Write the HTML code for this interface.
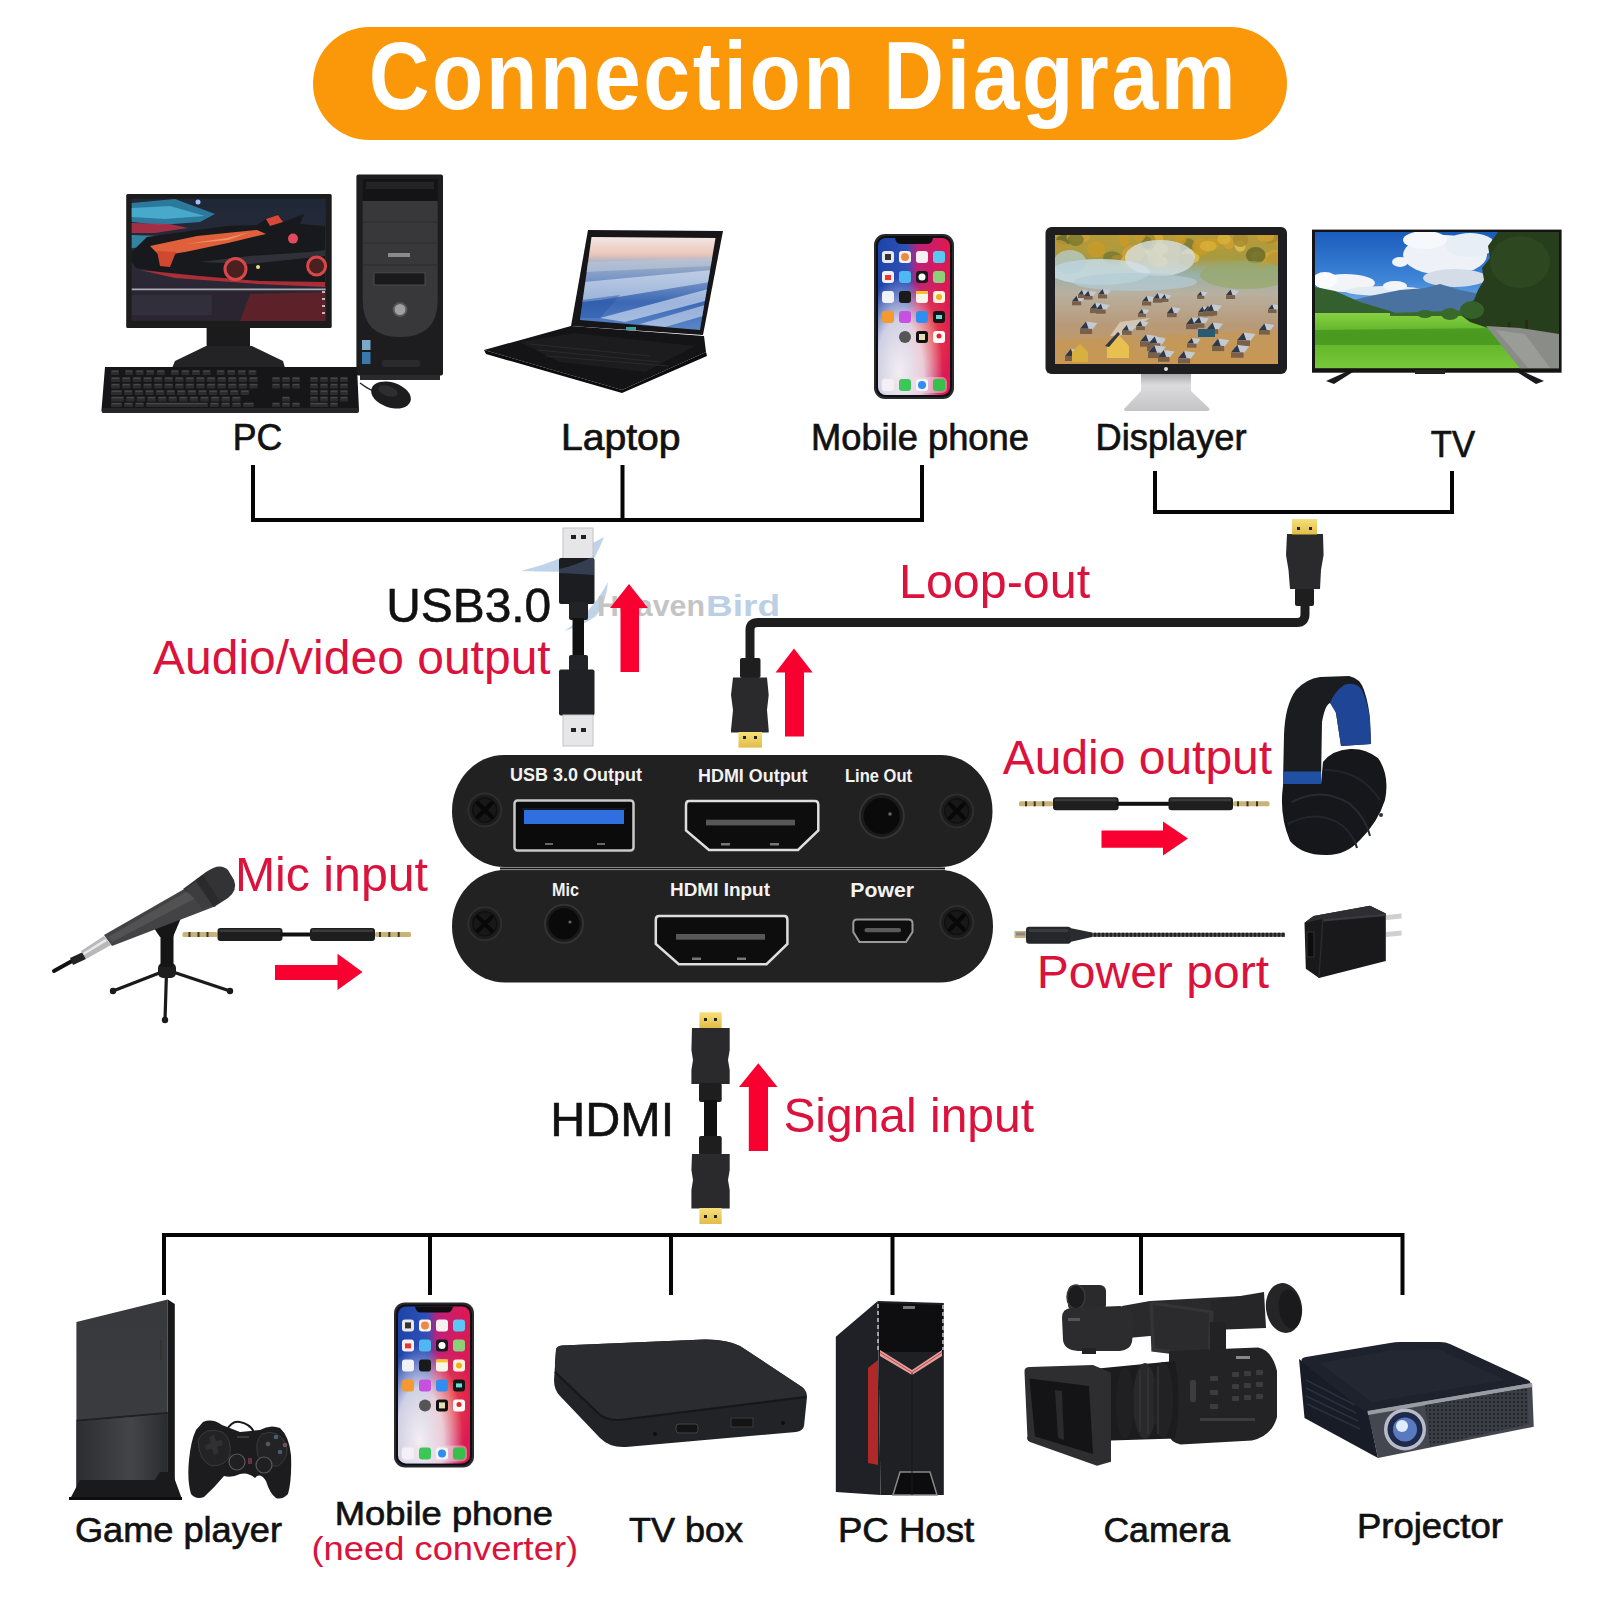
<!DOCTYPE html>
<html>
<head>
<meta charset="utf-8">
<style>
html,body{margin:0;padding:0;background:#fff;}
body{width:1600px;height:1600px;overflow:hidden;position:relative;}
svg{position:absolute;left:0;top:0;display:block;}
text{font-family:"Liberation Sans",sans-serif;}
</style>
</head>
<body>
<svg width="1600" height="1600" viewBox="0 0 1600 1600">
<defs>
  <linearGradient id="gold" x1="0" y1="0" x2="0" y2="1">
    <stop offset="0" stop-color="#f6e07a"/><stop offset="1" stop-color="#e2bc48"/>
  </linearGradient>
  <linearGradient id="panel" x1="0" y1="0" x2="0" y2="1">
    <stop offset="0" stop-color="#1d1d1e"/><stop offset="1" stop-color="#171718"/>
  </linearGradient>
  <linearGradient id="pcscr" x1="0" y1="0" x2="0" y2="1">
    <stop offset="0" stop-color="#1f2838"/><stop offset="0.5" stop-color="#2a2a36"/><stop offset="1" stop-color="#2a2430"/>
  </linearGradient>
  <linearGradient id="lapscr" x1="0" y1="0" x2="0" y2="1">
    <stop offset="0" stop-color="#f4e6e4"/><stop offset="0.18" stop-color="#ecc8bc"/><stop offset="0.3" stop-color="#9aaac4"/><stop offset="0.45" stop-color="#7896c8"/><stop offset="0.7" stop-color="#3c68b4"/><stop offset="1" stop-color="#5a86c8"/>
  </linearGradient>
  <linearGradient id="phscr" x1="0" y1="0" x2="1" y2="0">
    <stop offset="0" stop-color="#1c44a8"/><stop offset="0.4" stop-color="#3050b8"/><stop offset="0.55" stop-color="#c02078"/><stop offset="1" stop-color="#e01850"/>
  </linearGradient>
  <radialGradient id="phred" cx="0.7" cy="0.62" r="0.35">
    <stop offset="0" stop-color="#f04838" stop-opacity="0.9"/><stop offset="1" stop-color="#f04838" stop-opacity="0"/>
  </radialGradient>
  <radialGradient id="phwhite" cx="0.3" cy="0.85" r="0.6">
    <stop offset="0" stop-color="#f4eef2" stop-opacity="1"/><stop offset="0.55" stop-color="#eee8ee" stop-opacity="0.85"/><stop offset="1" stop-color="#eee8ee" stop-opacity="0"/>
  </radialGradient>
  <linearGradient id="dispscr" x1="0" y1="0" x2="0" y2="1">
    <stop offset="0" stop-color="#b89a38"/><stop offset="0.18" stop-color="#a89a40"/><stop offset="0.3" stop-color="#98b0a8"/><stop offset="0.45" stop-color="#b8b0a0"/><stop offset="0.7" stop-color="#b89a78"/><stop offset="1" stop-color="#c89858"/>
  </linearGradient>
  <linearGradient id="stand" x1="0" y1="0" x2="0" y2="1">
    <stop offset="0" stop-color="#a8a8aa"/><stop offset="0.3" stop-color="#dcdcde"/><stop offset="1" stop-color="#c4c4c6"/>
  </linearGradient>
  <linearGradient id="ps2g" x1="0" y1="0" x2="0" y2="1">
    <stop offset="0" stop-color="#38393c"/><stop offset="1" stop-color="#3c3d40"/>
  </linearGradient>
  <linearGradient id="ps2l" x1="0" y1="0" x2="1" y2="0">
    <stop offset="0" stop-color="#2c2d30"/><stop offset="0.6" stop-color="#444548"/><stop offset="1" stop-color="#2a2b2e"/>
  </linearGradient>
  <linearGradient id="tvsky" x1="0" y1="0" x2="0" y2="1">
    <stop offset="0" stop-color="#1a5cbc"/><stop offset="0.6" stop-color="#3f86d8"/><stop offset="1" stop-color="#8ab8e8"/>
  </linearGradient>
  <linearGradient id="tvgrass" x1="0" y1="0" x2="0" y2="1">
    <stop offset="0" stop-color="#86d040"/><stop offset="0.4" stop-color="#5cb028"/><stop offset="1" stop-color="#78c838"/>
  </linearGradient>
  <pattern id="grille" x="0" y="0" width="4" height="4" patternUnits="userSpaceOnUse">
    <rect width="4" height="4" fill="#3a3d44"/><circle cx="2" cy="2" r="1.1" fill="#1e2026"/>
  </pattern>
</defs>

<!-- ===== TITLE BANNER ===== -->
<rect x="313" y="27" width="974" height="113" rx="56.5" fill="#FA980A"/>
<text x="368.7" y="109" font-size="95.5" font-weight="bold" fill="#fff" letter-spacing="3" textLength="869.5" lengthAdjust="spacingAndGlyphs">Connection Diagram</text>

<!-- ===== PC ===== -->
<g id="pc">
  <!-- monitor stand -->
  <rect x="206.6" y="326" width="43.4" height="26" fill="#1b1b1c"/>
  <path d="M206 346 H252 L283 361 L285 368 H172 L175 361 Z" fill="#232325"/>
  <!-- monitor -->
  <rect x="126.2" y="194" width="205.5" height="134" rx="1.5" fill="#1c1c1d"/>
  <rect x="131.7" y="198.7" width="194" height="122.3" fill="url(#pcscr)"/>
  <!-- streaks -->
  <polygon points="131.7,203 175,199 215,214 200,222 160,225 131.7,222" fill="#2e8fb8" opacity="0.8"/>
  <polygon points="131.7,208 170,206 205,216 165,219 131.7,217" fill="#5cc8e8" opacity="0.6"/>
  <polygon points="131.7,223 170,224 188,228 155,233 131.7,233" fill="#b83048" opacity="0.85"/>
  <polygon points="131.7,235 160,236 150,247 131.7,248" fill="#39a8cc" opacity="0.7"/>
  <circle cx="198" cy="202" r="2.5" fill="#9ec0ff"/>
  <!-- car -->
  <path d="M131.7 252 L147 237 L197 230 L227 226 L257 225 L266 219 L278 214.6 L283 222 L304 214 L300 224 L325 226 V286 L258 282 L175 275 L136 268 L131.7 262 Z" fill="#18191d"/>
  <path d="M150 246 L197 236 L257 230 L266 234 L228 243 L185 252 L160 256 Z" fill="#e0603c"/>
  <path d="M186 244 L227 238 L250 232 L228 240 Z" fill="#f0a070" opacity="0.8"/>
  <path d="M157 251 L176 252 L170 267 L160 266 Z" fill="#d04830"/>
  <path d="M266 219 L278 215 L283 222 L270 226 Z" fill="#d84838"/>
  <path d="M200 262 L250 256 L310 252 L325 250 V256 L250 264 Z" fill="#3a3c44" opacity="0.7"/>
  <path d="M140 270 L200 276 L260 281 L325 282 V287 L258 284 L175 278 Z" fill="#b83038" opacity="0.9"/>
  <circle cx="235.5" cy="269" r="10.5" fill="#4a2020" stroke="#d8484a" stroke-width="3"/>
  <circle cx="316.6" cy="266" r="9" fill="#4a2020" stroke="#d8484a" stroke-width="3"/>
  <circle cx="293" cy="238.6" r="5" fill="#e04a5c"/>
  <circle cx="258" cy="267" r="2" fill="#f0e080"/>
  <!-- reflection -->
  <rect x="131.7" y="288.5" width="194" height="2" fill="#c8ccd4" opacity="0.8"/>
  <rect x="131.7" y="290.5" width="194" height="30.5" fill="#2a2530"/>
  <polygon points="250,294 325.6,292 325.6,321 240,321" fill="#6a2028" opacity="0.8"/>
  <rect x="131.7" y="295" width="80" height="20" fill="#3a3a48" opacity="0.5"/>
  <g fill="#bbb"><rect x="322" y="291" width="3" height="2"/><rect x="322" y="298" width="3" height="2"/><rect x="322" y="305" width="3" height="2"/><rect x="322" y="312" width="3" height="2"/></g>
  <!-- tower -->
  <rect x="356.4" y="174.4" width="86.6" height="201" rx="2" fill="#1d1d1f"/>
  <rect x="360" y="375" width="80" height="5" fill="#2a2a2a"/>
  <rect x="362.7" y="179" width="75" height="22" fill="#141416"/>
  <rect x="366" y="182" width="68" height="7" fill="#232325"/>
  <path d="M362.7 201 H437.7 V300 Q437.7 337 400 337 Q362.7 337 362.7 300 Z" fill="#38383b"/>
  <line x1="363" y1="222" x2="437" y2="222" stroke="#2a2a2c" stroke-width="1"/>
  <line x1="363" y1="243" x2="437" y2="243" stroke="#2a2a2c" stroke-width="1"/>
  <line x1="363" y1="265" x2="437" y2="265" stroke="#2a2a2c" stroke-width="1"/>
  <rect x="388" y="253" width="22" height="4" fill="#8a8a8c"/>
  <rect x="374" y="272.8" width="51" height="12.2" fill="#1a1a1c" stroke="#4a4a4c" stroke-width="1"/>
  <circle cx="400" cy="309.5" r="6.5" fill="#a0a0a4" stroke="#55555a" stroke-width="2"/>
  <rect x="362" y="340" width="8.5" height="10" fill="#7aa8c8"/>
  <rect x="362" y="352" width="8.5" height="12" fill="#3a78b0"/>
  <rect x="382" y="360" width="38" height="7" rx="2" fill="#2a2a2c"/>
  <!-- keyboard -->
  <path d="M105 367 H357 L359 410 Q359 413 355 413 H104 Q101 413 101.5 410 Z" fill="#161618"/>
  <rect x="111.0" y="370.0" width="8.0" height="5.0" rx="0.8" fill="#2c2c2e"/><rect x="111.8" y="370.6" width="6.4" height="1.2" fill="#4a4a4c"/><rect x="125.0" y="370.0" width="8.0" height="5.0" rx="0.8" fill="#2c2c2e"/><rect x="125.8" y="370.6" width="6.4" height="1.2" fill="#4a4a4c"/><rect x="135.6" y="370.0" width="8.0" height="5.0" rx="0.8" fill="#2c2c2e"/><rect x="136.4" y="370.6" width="6.4" height="1.2" fill="#4a4a4c"/><rect x="146.2" y="370.0" width="8.0" height="5.0" rx="0.8" fill="#2c2c2e"/><rect x="147.0" y="370.6" width="6.4" height="1.2" fill="#4a4a4c"/><rect x="156.8" y="370.0" width="8.0" height="5.0" rx="0.8" fill="#2c2c2e"/><rect x="157.6" y="370.6" width="6.4" height="1.2" fill="#4a4a4c"/><rect x="170.8" y="370.0" width="8.0" height="5.0" rx="0.8" fill="#2c2c2e"/><rect x="171.6" y="370.6" width="6.4" height="1.2" fill="#4a4a4c"/><rect x="181.4" y="370.0" width="8.0" height="5.0" rx="0.8" fill="#2c2c2e"/><rect x="182.2" y="370.6" width="6.4" height="1.2" fill="#4a4a4c"/><rect x="192.0" y="370.0" width="8.0" height="5.0" rx="0.8" fill="#2c2c2e"/><rect x="192.8" y="370.6" width="6.4" height="1.2" fill="#4a4a4c"/><rect x="202.6" y="370.0" width="8.0" height="5.0" rx="0.8" fill="#2c2c2e"/><rect x="203.4" y="370.6" width="6.4" height="1.2" fill="#4a4a4c"/><rect x="216.6" y="370.0" width="8.0" height="5.0" rx="0.8" fill="#2c2c2e"/><rect x="217.4" y="370.6" width="6.4" height="1.2" fill="#4a4a4c"/><rect x="227.2" y="370.0" width="8.0" height="5.0" rx="0.8" fill="#2c2c2e"/><rect x="228.0" y="370.6" width="6.4" height="1.2" fill="#4a4a4c"/><rect x="237.8" y="370.0" width="8.0" height="5.0" rx="0.8" fill="#2c2c2e"/><rect x="238.6" y="370.6" width="6.4" height="1.2" fill="#4a4a4c"/><rect x="248.4" y="370.0" width="8.0" height="5.0" rx="0.8" fill="#2c2c2e"/><rect x="249.2" y="370.6" width="6.4" height="1.2" fill="#4a4a4c"/><rect x="111.0" y="377.0" width="9.0" height="5.0" rx="0.8" fill="#2c2c2e"/><rect x="111.8" y="377.6" width="7.4" height="1.2" fill="#4a4a4c"/><rect x="122.0" y="377.0" width="8.6" height="5.0" rx="0.8" fill="#2c2c2e"/><rect x="122.8" y="377.6" width="7.0" height="1.2" fill="#4a4a4c"/><rect x="132.6" y="377.0" width="8.6" height="5.0" rx="0.8" fill="#2c2c2e"/><rect x="133.4" y="377.6" width="7.0" height="1.2" fill="#4a4a4c"/><rect x="143.2" y="377.0" width="8.6" height="5.0" rx="0.8" fill="#2c2c2e"/><rect x="144.0" y="377.6" width="7.0" height="1.2" fill="#4a4a4c"/><rect x="153.8" y="377.0" width="8.6" height="5.0" rx="0.8" fill="#2c2c2e"/><rect x="154.6" y="377.6" width="7.0" height="1.2" fill="#4a4a4c"/><rect x="164.4" y="377.0" width="8.6" height="5.0" rx="0.8" fill="#2c2c2e"/><rect x="165.2" y="377.6" width="7.0" height="1.2" fill="#4a4a4c"/><rect x="175.0" y="377.0" width="8.6" height="5.0" rx="0.8" fill="#2c2c2e"/><rect x="175.8" y="377.6" width="7.0" height="1.2" fill="#4a4a4c"/><rect x="185.6" y="377.0" width="8.6" height="5.0" rx="0.8" fill="#2c2c2e"/><rect x="186.4" y="377.6" width="7.0" height="1.2" fill="#4a4a4c"/><rect x="196.2" y="377.0" width="8.6" height="5.0" rx="0.8" fill="#2c2c2e"/><rect x="197.0" y="377.6" width="7.0" height="1.2" fill="#4a4a4c"/><rect x="206.8" y="377.0" width="8.6" height="5.0" rx="0.8" fill="#2c2c2e"/><rect x="207.6" y="377.6" width="7.0" height="1.2" fill="#4a4a4c"/><rect x="217.4" y="377.0" width="8.6" height="5.0" rx="0.8" fill="#2c2c2e"/><rect x="218.2" y="377.6" width="7.0" height="1.2" fill="#4a4a4c"/><rect x="228.0" y="377.0" width="8.6" height="5.0" rx="0.8" fill="#2c2c2e"/><rect x="228.8" y="377.6" width="7.0" height="1.2" fill="#4a4a4c"/><rect x="238.6" y="377.0" width="8.6" height="5.0" rx="0.8" fill="#2c2c2e"/><rect x="239.4" y="377.6" width="7.0" height="1.2" fill="#4a4a4c"/><rect x="249.2" y="377.0" width="8.6" height="5.0" rx="0.8" fill="#2c2c2e"/><rect x="250.0" y="377.6" width="7.0" height="1.2" fill="#4a4a4c"/><rect x="111.0" y="383.5" width="9.0" height="5.0" rx="0.8" fill="#2c2c2e"/><rect x="111.8" y="384.1" width="7.4" height="1.2" fill="#4a4a4c"/><rect x="122.0" y="383.5" width="8.6" height="5.0" rx="0.8" fill="#2c2c2e"/><rect x="122.8" y="384.1" width="7.0" height="1.2" fill="#4a4a4c"/><rect x="132.6" y="383.5" width="8.6" height="5.0" rx="0.8" fill="#2c2c2e"/><rect x="133.4" y="384.1" width="7.0" height="1.2" fill="#4a4a4c"/><rect x="143.2" y="383.5" width="8.6" height="5.0" rx="0.8" fill="#2c2c2e"/><rect x="144.0" y="384.1" width="7.0" height="1.2" fill="#4a4a4c"/><rect x="153.8" y="383.5" width="8.6" height="5.0" rx="0.8" fill="#2c2c2e"/><rect x="154.6" y="384.1" width="7.0" height="1.2" fill="#4a4a4c"/><rect x="164.4" y="383.5" width="8.6" height="5.0" rx="0.8" fill="#2c2c2e"/><rect x="165.2" y="384.1" width="7.0" height="1.2" fill="#4a4a4c"/><rect x="175.0" y="383.5" width="8.6" height="5.0" rx="0.8" fill="#2c2c2e"/><rect x="175.8" y="384.1" width="7.0" height="1.2" fill="#4a4a4c"/><rect x="185.6" y="383.5" width="8.6" height="5.0" rx="0.8" fill="#2c2c2e"/><rect x="186.4" y="384.1" width="7.0" height="1.2" fill="#4a4a4c"/><rect x="196.2" y="383.5" width="8.6" height="5.0" rx="0.8" fill="#2c2c2e"/><rect x="197.0" y="384.1" width="7.0" height="1.2" fill="#4a4a4c"/><rect x="206.8" y="383.5" width="8.6" height="5.0" rx="0.8" fill="#2c2c2e"/><rect x="207.6" y="384.1" width="7.0" height="1.2" fill="#4a4a4c"/><rect x="217.4" y="383.5" width="8.6" height="5.0" rx="0.8" fill="#2c2c2e"/><rect x="218.2" y="384.1" width="7.0" height="1.2" fill="#4a4a4c"/><rect x="228.0" y="383.5" width="8.6" height="5.0" rx="0.8" fill="#2c2c2e"/><rect x="228.8" y="384.1" width="7.0" height="1.2" fill="#4a4a4c"/><rect x="238.6" y="383.5" width="8.6" height="5.0" rx="0.8" fill="#2c2c2e"/><rect x="239.4" y="384.1" width="7.0" height="1.2" fill="#4a4a4c"/><rect x="249.2" y="383.5" width="8.6" height="5.0" rx="0.8" fill="#2c2c2e"/><rect x="250.0" y="384.1" width="7.0" height="1.2" fill="#4a4a4c"/><rect x="111.0" y="390.0" width="11.0" height="5.0" rx="0.8" fill="#2c2c2e"/><rect x="111.8" y="390.6" width="9.4" height="1.2" fill="#4a4a4c"/><rect x="124.0" y="390.0" width="8.6" height="5.0" rx="0.8" fill="#2c2c2e"/><rect x="124.8" y="390.6" width="7.0" height="1.2" fill="#4a4a4c"/><rect x="134.6" y="390.0" width="8.6" height="5.0" rx="0.8" fill="#2c2c2e"/><rect x="135.4" y="390.6" width="7.0" height="1.2" fill="#4a4a4c"/><rect x="145.2" y="390.0" width="8.6" height="5.0" rx="0.8" fill="#2c2c2e"/><rect x="146.0" y="390.6" width="7.0" height="1.2" fill="#4a4a4c"/><rect x="155.8" y="390.0" width="8.6" height="5.0" rx="0.8" fill="#2c2c2e"/><rect x="156.6" y="390.6" width="7.0" height="1.2" fill="#4a4a4c"/><rect x="166.4" y="390.0" width="8.6" height="5.0" rx="0.8" fill="#2c2c2e"/><rect x="167.2" y="390.6" width="7.0" height="1.2" fill="#4a4a4c"/><rect x="177.0" y="390.0" width="8.6" height="5.0" rx="0.8" fill="#2c2c2e"/><rect x="177.8" y="390.6" width="7.0" height="1.2" fill="#4a4a4c"/><rect x="187.6" y="390.0" width="8.6" height="5.0" rx="0.8" fill="#2c2c2e"/><rect x="188.4" y="390.6" width="7.0" height="1.2" fill="#4a4a4c"/><rect x="198.2" y="390.0" width="8.6" height="5.0" rx="0.8" fill="#2c2c2e"/><rect x="199.0" y="390.6" width="7.0" height="1.2" fill="#4a4a4c"/><rect x="208.8" y="390.0" width="8.6" height="5.0" rx="0.8" fill="#2c2c2e"/><rect x="209.6" y="390.6" width="7.0" height="1.2" fill="#4a4a4c"/><rect x="219.4" y="390.0" width="8.6" height="5.0" rx="0.8" fill="#2c2c2e"/><rect x="220.2" y="390.6" width="7.0" height="1.2" fill="#4a4a4c"/><rect x="230.0" y="390.0" width="8.6" height="5.0" rx="0.8" fill="#2c2c2e"/><rect x="230.8" y="390.6" width="7.0" height="1.2" fill="#4a4a4c"/><rect x="240.6" y="390.0" width="8.6" height="5.0" rx="0.8" fill="#2c2c2e"/><rect x="241.4" y="390.6" width="7.0" height="1.2" fill="#4a4a4c"/><rect x="111.0" y="396.5" width="13.0" height="5.0" rx="0.8" fill="#2c2c2e"/><rect x="111.8" y="397.1" width="11.4" height="1.2" fill="#4a4a4c"/><rect x="126.0" y="396.5" width="8.6" height="5.0" rx="0.8" fill="#2c2c2e"/><rect x="126.8" y="397.1" width="7.0" height="1.2" fill="#4a4a4c"/><rect x="136.6" y="396.5" width="8.6" height="5.0" rx="0.8" fill="#2c2c2e"/><rect x="137.4" y="397.1" width="7.0" height="1.2" fill="#4a4a4c"/><rect x="147.2" y="396.5" width="8.6" height="5.0" rx="0.8" fill="#2c2c2e"/><rect x="148.0" y="397.1" width="7.0" height="1.2" fill="#4a4a4c"/><rect x="157.8" y="396.5" width="8.6" height="5.0" rx="0.8" fill="#2c2c2e"/><rect x="158.6" y="397.1" width="7.0" height="1.2" fill="#4a4a4c"/><rect x="168.4" y="396.5" width="8.6" height="5.0" rx="0.8" fill="#2c2c2e"/><rect x="169.2" y="397.1" width="7.0" height="1.2" fill="#4a4a4c"/><rect x="179.0" y="396.5" width="8.6" height="5.0" rx="0.8" fill="#2c2c2e"/><rect x="179.8" y="397.1" width="7.0" height="1.2" fill="#4a4a4c"/><rect x="189.6" y="396.5" width="8.6" height="5.0" rx="0.8" fill="#2c2c2e"/><rect x="190.4" y="397.1" width="7.0" height="1.2" fill="#4a4a4c"/><rect x="200.2" y="396.5" width="8.6" height="5.0" rx="0.8" fill="#2c2c2e"/><rect x="201.0" y="397.1" width="7.0" height="1.2" fill="#4a4a4c"/><rect x="210.8" y="396.5" width="8.6" height="5.0" rx="0.8" fill="#2c2c2e"/><rect x="211.6" y="397.1" width="7.0" height="1.2" fill="#4a4a4c"/><rect x="221.4" y="396.5" width="8.6" height="5.0" rx="0.8" fill="#2c2c2e"/><rect x="222.2" y="397.1" width="7.0" height="1.2" fill="#4a4a4c"/><rect x="232.0" y="396.5" width="8.6" height="5.0" rx="0.8" fill="#2c2c2e"/><rect x="232.8" y="397.1" width="7.0" height="1.2" fill="#4a4a4c"/><rect x="111.0" y="402.5" width="11.0" height="4.5" rx="0.8" fill="#2c2c2e"/><rect x="111.8" y="403.1" width="9.4" height="1.2" fill="#4a4a4c"/><rect x="124.0" y="402.5" width="9.0" height="4.5" rx="0.8" fill="#2c2c2e"/><rect x="124.8" y="403.1" width="7.4" height="1.2" fill="#4a4a4c"/><rect x="135.0" y="402.5" width="9.0" height="4.5" rx="0.8" fill="#2c2c2e"/><rect x="135.8" y="403.1" width="7.4" height="1.2" fill="#4a4a4c"/><rect x="146.0" y="402.5" width="62.0" height="4.5" rx="0.8" fill="#2c2c2e"/><rect x="146.8" y="403.1" width="60.4" height="1.2" fill="#4a4a4c"/><rect x="210.0" y="402.5" width="9.0" height="4.5" rx="0.8" fill="#2c2c2e"/><rect x="210.8" y="403.1" width="7.4" height="1.2" fill="#4a4a4c"/><rect x="221.0" y="402.5" width="9.0" height="4.5" rx="0.8" fill="#2c2c2e"/><rect x="221.8" y="403.1" width="7.4" height="1.2" fill="#4a4a4c"/><rect x="232.0" y="402.5" width="9.0" height="4.5" rx="0.8" fill="#2c2c2e"/><rect x="232.8" y="403.1" width="7.4" height="1.2" fill="#4a4a4c"/><rect x="243.0" y="402.5" width="11.0" height="4.5" rx="0.8" fill="#2c2c2e"/><rect x="243.8" y="403.1" width="9.4" height="1.2" fill="#4a4a4c"/><rect x="272.0" y="377.0" width="8.0" height="5.0" rx="0.8" fill="#2c2c2e"/><rect x="272.8" y="377.6" width="6.4" height="1.2" fill="#4a4a4c"/><rect x="282.0" y="377.0" width="8.0" height="5.0" rx="0.8" fill="#2c2c2e"/><rect x="282.8" y="377.6" width="6.4" height="1.2" fill="#4a4a4c"/><rect x="292.0" y="377.0" width="8.0" height="5.0" rx="0.8" fill="#2c2c2e"/><rect x="292.8" y="377.6" width="6.4" height="1.2" fill="#4a4a4c"/><rect x="272.0" y="383.5" width="8.0" height="5.0" rx="0.8" fill="#2c2c2e"/><rect x="272.8" y="384.1" width="6.4" height="1.2" fill="#4a4a4c"/><rect x="282.0" y="383.5" width="8.0" height="5.0" rx="0.8" fill="#2c2c2e"/><rect x="282.8" y="384.1" width="6.4" height="1.2" fill="#4a4a4c"/><rect x="292.0" y="383.5" width="8.0" height="5.0" rx="0.8" fill="#2c2c2e"/><rect x="292.8" y="384.1" width="6.4" height="1.2" fill="#4a4a4c"/><rect x="282.0" y="396.5" width="8.0" height="5.0" rx="0.8" fill="#2c2c2e"/><rect x="282.8" y="397.1" width="6.4" height="1.2" fill="#4a4a4c"/><rect x="272.0" y="402.5" width="8.0" height="4.5" rx="0.8" fill="#2c2c2e"/><rect x="272.8" y="403.1" width="6.4" height="1.2" fill="#4a4a4c"/><rect x="282.0" y="402.5" width="8.0" height="4.5" rx="0.8" fill="#2c2c2e"/><rect x="282.8" y="403.1" width="6.4" height="1.2" fill="#4a4a4c"/><rect x="292.0" y="402.5" width="8.0" height="4.5" rx="0.8" fill="#2c2c2e"/><rect x="292.8" y="403.1" width="6.4" height="1.2" fill="#4a4a4c"/><rect x="310.0" y="377.0" width="8.0" height="5.0" rx="0.8" fill="#2c2c2e"/><rect x="310.8" y="377.6" width="6.4" height="1.2" fill="#4a4a4c"/><rect x="320.0" y="377.0" width="8.0" height="5.0" rx="0.8" fill="#2c2c2e"/><rect x="320.8" y="377.6" width="6.4" height="1.2" fill="#4a4a4c"/><rect x="330.0" y="377.0" width="8.0" height="5.0" rx="0.8" fill="#2c2c2e"/><rect x="330.8" y="377.6" width="6.4" height="1.2" fill="#4a4a4c"/><rect x="340.0" y="377.0" width="8.0" height="5.0" rx="0.8" fill="#2c2c2e"/><rect x="340.8" y="377.6" width="6.4" height="1.2" fill="#4a4a4c"/><rect x="310.0" y="383.5" width="8.0" height="5.0" rx="0.8" fill="#2c2c2e"/><rect x="310.8" y="384.1" width="6.4" height="1.2" fill="#4a4a4c"/><rect x="320.0" y="383.5" width="8.0" height="5.0" rx="0.8" fill="#2c2c2e"/><rect x="320.8" y="384.1" width="6.4" height="1.2" fill="#4a4a4c"/><rect x="330.0" y="383.5" width="8.0" height="5.0" rx="0.8" fill="#2c2c2e"/><rect x="330.8" y="384.1" width="6.4" height="1.2" fill="#4a4a4c"/><rect x="340.0" y="383.5" width="8.0" height="5.0" rx="0.8" fill="#2c2c2e"/><rect x="340.8" y="384.1" width="6.4" height="1.2" fill="#4a4a4c"/><rect x="310.0" y="390.0" width="8.0" height="5.0" rx="0.8" fill="#2c2c2e"/><rect x="310.8" y="390.6" width="6.4" height="1.2" fill="#4a4a4c"/><rect x="320.0" y="390.0" width="8.0" height="5.0" rx="0.8" fill="#2c2c2e"/><rect x="320.8" y="390.6" width="6.4" height="1.2" fill="#4a4a4c"/><rect x="330.0" y="390.0" width="8.0" height="5.0" rx="0.8" fill="#2c2c2e"/><rect x="330.8" y="390.6" width="6.4" height="1.2" fill="#4a4a4c"/><rect x="340.0" y="390.0" width="8.0" height="5.0" rx="0.8" fill="#2c2c2e"/><rect x="340.8" y="390.6" width="6.4" height="1.2" fill="#4a4a4c"/><rect x="310.0" y="396.5" width="8.0" height="5.0" rx="0.8" fill="#2c2c2e"/><rect x="310.8" y="397.1" width="6.4" height="1.2" fill="#4a4a4c"/><rect x="320.0" y="396.5" width="8.0" height="5.0" rx="0.8" fill="#2c2c2e"/><rect x="320.8" y="397.1" width="6.4" height="1.2" fill="#4a4a4c"/><rect x="330.0" y="396.5" width="8.0" height="5.0" rx="0.8" fill="#2c2c2e"/><rect x="330.8" y="397.1" width="6.4" height="1.2" fill="#4a4a4c"/><rect x="340.0" y="396.5" width="8.0" height="5.0" rx="0.8" fill="#2c2c2e"/><rect x="340.8" y="397.1" width="6.4" height="1.2" fill="#4a4a4c"/><rect x="310.0" y="402.5" width="18.0" height="4.5" rx="0.8" fill="#2c2c2e"/><rect x="310.8" y="403.1" width="16.4" height="1.2" fill="#4a4a4c"/><rect x="330.0" y="402.5" width="8.0" height="4.5" rx="0.8" fill="#2c2c2e"/><rect x="330.8" y="403.1" width="6.4" height="1.2" fill="#4a4a4c"/>
  <rect x="102" y="408" width="257" height="5" rx="2" fill="#252527"/>
  <!-- mouse -->
  <path d="M360 383 Q372 392 378 392" stroke="#222" stroke-width="1.5" fill="none"/>
  <ellipse cx="391" cy="395" rx="20.5" ry="12.5" transform="rotate(18 391 395)" fill="#1d1d1f"/>
  <ellipse cx="388" cy="391" rx="10" ry="5" transform="rotate(18 388 391)" fill="#3a3a3c" opacity="0.6"/>
</g>

<!-- ===== LAPTOP ===== -->
<g id="laptop">
  <polygon points="588,230 723,231 703,335 571,326" fill="#161618"/>
  <clipPath id="lapclip"><polygon points="591.5,237 715.5,238 700,330 580,320"/></clipPath>
  <polygon points="591.5,237 715.5,238 700,330 580,320" fill="url(#lapscr)"/>
  <g clip-path="url(#lapclip)">
  <polygon points="586,262 712,258 711,266 585,272" fill="#b8c4d8" opacity="0.7"/>
  <polygon points="584,282 712,270 710,282 600,300 582,302" fill="#e8eef8" opacity="0.55"/>
  <polygon points="600,318 712,288 709,300 625,322" fill="#dfe8f6" opacity="0.6"/>
  <polygon points="640,324 705,305 703,316 665,327" fill="#f0f4fa" opacity="0.5"/>
  <polygon points="582,300 620,295 600,318 580,318" fill="#2a58a8" opacity="0.5"/>
  </g>
  <rect x="626" y="327" width="10" height="3" fill="#3aa6a0"/>
  <polygon points="571,326 704,336 706,352 622,390 484,350" fill="#141416"/>
  <polygon points="520,342 575,333 695,346 645,372 560,362" fill="#1c1c1f"/>
  <g stroke="#2a2a2e" stroke-width="1">
    <path d="M530 344 L650 356 M538 350 L660 362 M546 356 L668 366"/>
  </g>
  <polygon points="484,350 622,390 706,352 707,356 622,393 486,354" fill="#0c0c0d"/>
</g>

<!-- ===== MOBILE PHONE (top) ===== -->
<g id="phone">
  <rect x="874" y="234" width="80" height="165" rx="11" fill="#2a2a2e"/>
  <rect x="876" y="236" width="76" height="161" rx="9.5" fill="#0e0e10"/>
  <rect x="878" y="238" width="72" height="157" rx="8" fill="url(#phscr)"/>
  <rect x="878" y="238" width="72" height="157" rx="8" fill="url(#phred)"/>
  <rect x="878" y="238" width="72" height="157" rx="8" fill="url(#phwhite)"/>
  <path d="M895 238 H933 Q932 244 927 244 H901 Q896 244 895 238 Z" fill="#0e0e10"/>
  <g id="icons">
    <rect x="882" y="251" width="12" height="12" rx="3" fill="#e8e8ea"/><rect x="885" y="254" width="6" height="6" fill="#333"/>
    <rect x="899" y="251" width="12" height="12" rx="3" fill="#f4f4f4"/><circle cx="905" cy="257" r="4" fill="#e84"/>
    <rect x="916" y="251" width="12" height="12" rx="3" fill="#f6f0f2"/>
    <rect x="933" y="251" width="12" height="12" rx="3" fill="#5ac8f5"/>
    <rect x="882" y="271" width="12" height="12" rx="3" fill="#f5f0f0"/><rect x="885" y="275" width="6" height="5" fill="#e33"/>
    <rect x="899" y="271" width="12" height="12" rx="3" fill="#4fb8f0"/>
    <rect x="916" y="271" width="12" height="12" rx="3" fill="#1a1a1a"/><circle cx="922" cy="277" r="3.5" fill="#fff"/>
    <rect x="933" y="271" width="12" height="12" rx="3" fill="#8ed07a"/>
    <rect x="882" y="291" width="12" height="12" rx="3" fill="#f0f2f8"/>
    <rect x="899" y="291" width="12" height="12" rx="3" fill="#1a1a1a"/>
    <rect x="916" y="291" width="12" height="12" rx="3" fill="#f8f4e8"/><rect x="916" y="291" width="12" height="3" fill="#f4c030"/>
    <rect x="933" y="291" width="12" height="12" rx="3" fill="#fff2dc"/><circle cx="939" cy="297" r="3" fill="#f0b020"/>
    <rect x="882" y="311" width="12" height="12" rx="3" fill="#f59a30"/>
    <rect x="899" y="311" width="12" height="12" rx="3" fill="#c850e0"/>
    <rect x="916" y="311" width="12" height="12" rx="3" fill="#2f8ef0"/>
    <rect x="933" y="311" width="12" height="12" rx="3" fill="#151515"/><rect x="936" y="315" width="6" height="4" fill="#6dd"/>
    <circle cx="905" cy="337" r="6" fill="#555"/>
    <rect x="916" y="331" width="12" height="12" rx="3" fill="#111"/><rect x="919" y="334" width="6" height="6" fill="#e8dcb0"/>
    <rect x="933" y="331" width="12" height="12" rx="3" fill="#fafafa"/><circle cx="939" cy="336" r="2.5" fill="#e22"/>
    <rect x="881" y="377" width="66" height="16" rx="5" fill="#f0e0e8" opacity="0.45"/>
    <rect x="882" y="379" width="12" height="12" rx="3" fill="#f4f0f6"/>
    <rect x="899" y="379" width="12" height="12" rx="3" fill="#3cc858"/>
    <rect x="916" y="379" width="12" height="12" rx="3" fill="#f4f6fa"/><circle cx="922" cy="385" r="4" fill="#2f8ef0"/>
    <rect x="933" y="379" width="12" height="12" rx="3" fill="#35c04a"/>
  </g>
</g>

<!-- ===== DISPLAYER ===== -->
<g id="displayer">
  <path d="M1141 374 H1191 V391 L1209 408 Q1211 411 1206 411 H1127 Q1122 411 1125 408 L1141 391 Z" fill="url(#stand)"/>
  <rect x="1045.5" y="227" width="241.5" height="147" rx="6" fill="#1e1e20"/>
  <rect x="1055" y="235" width="223" height="129" fill="url(#dispscr)"/>
  <clipPath id="dispclip"><rect x="1055" y="235" width="223" height="129"/></clipPath>
  <g clip-path="url(#dispclip)">
    <!-- trees -->
    <ellipse cx="1155.9" cy="250.6" rx="11.5" ry="6.9" fill="#e0c050" opacity="0.85"/>
    <ellipse cx="1096.2" cy="249.3" rx="9.4" ry="8.2" fill="#c89a28" opacity="0.85"/>
    <ellipse cx="1154.6" cy="239.7" rx="8.8" ry="8.6" fill="#d8b038" opacity="0.85"/>
    <ellipse cx="1187.8" cy="246.3" rx="8.2" ry="8.0" fill="#7a7a30" opacity="0.85"/>
    <ellipse cx="1194.0" cy="257.6" rx="5.4" ry="5.1" fill="#e0c050" opacity="0.85"/>
    <ellipse cx="1188.7" cy="256.2" rx="7.3" ry="7.4" fill="#e0c050" opacity="0.85"/>
    <ellipse cx="1170.8" cy="252.6" rx="8.5" ry="7.6" fill="#b89838" opacity="0.85"/>
    <ellipse cx="1201.0" cy="246.6" rx="8.9" ry="8.7" fill="#c89a28" opacity="0.85"/>
    <ellipse cx="1212.8" cy="244.2" rx="6.6" ry="6.2" fill="#c89a28" opacity="0.85"/>
    <ellipse cx="1180.6" cy="238.8" rx="5.8" ry="6.2" fill="#c89a28" opacity="0.85"/>
    <ellipse cx="1268.6" cy="258.0" rx="5.0" ry="5.8" fill="#d8b038" opacity="0.85"/>
    <ellipse cx="1159.8" cy="261.5" rx="7.8" ry="5.3" fill="#e0c050" opacity="0.85"/>
    <ellipse cx="1228.6" cy="243.0" rx="5.6" ry="6.3" fill="#d0a030" opacity="0.85"/>
    <ellipse cx="1224.0" cy="239.1" rx="6.7" ry="5.4" fill="#d8b038" opacity="0.85"/>
    <ellipse cx="1158.7" cy="248.7" rx="9.8" ry="5.8" fill="#e0c050" opacity="0.85"/>
    <ellipse cx="1274.7" cy="256.0" rx="7.9" ry="6.5" fill="#d0a030" opacity="0.85"/>
    <ellipse cx="1148.8" cy="241.5" rx="6.9" ry="8.9" fill="#a88a30" opacity="0.85"/>
    <ellipse cx="1277.5" cy="236.5" rx="6.3" ry="9.0" fill="#c89a28" opacity="0.85"/>
    <ellipse cx="1064.4" cy="239.8" rx="8.1" ry="5.0" fill="#6a6a2a" opacity="0.85"/>
    <ellipse cx="1240.2" cy="246.0" rx="5.5" ry="5.8" fill="#e0c050" opacity="0.85"/>
    <ellipse cx="1058.5" cy="245.6" rx="9.4" ry="5.5" fill="#b89838" opacity="0.85"/>
    <ellipse cx="1240.6" cy="239.5" rx="7.7" ry="7.5" fill="#a88a30" opacity="0.85"/>
    <ellipse cx="1257.6" cy="257.3" rx="6.7" ry="5.8" fill="#e0c050" opacity="0.85"/>
    <ellipse cx="1208.2" cy="246.1" rx="8.4" ry="5.3" fill="#d8b038" opacity="0.85"/>
    <ellipse cx="1078.2" cy="237.0" rx="11.7" ry="6.0" fill="#d0a030" opacity="0.85"/>
    <ellipse cx="1112.3" cy="257.4" rx="9.2" ry="6.2" fill="#7a7a30" opacity="0.85"/>
    <ellipse cx="1262.2" cy="261.4" rx="5.9" ry="6.9" fill="#c89a28" opacity="0.85"/>
    <ellipse cx="1117.5" cy="259.9" rx="6.4" ry="5.1" fill="#a88a30" opacity="0.85"/>
    <ellipse cx="1146.7" cy="242.5" rx="5.3" ry="6.1" fill="#7a7a30" opacity="0.85"/>
    <ellipse cx="1075.6" cy="239.6" rx="8.2" ry="6.3" fill="#7a7a30" opacity="0.85"/>
    <ellipse cx="1186.5" cy="260.0" rx="8.3" ry="6.4" fill="#a88a30" opacity="0.85"/>
    <ellipse cx="1269.7" cy="236.6" rx="9.5" ry="6.9" fill="#a88a30" opacity="0.85"/>
    <ellipse cx="1126.1" cy="262.0" rx="5.5" ry="7.2" fill="#d8b038" opacity="0.85"/>
    <ellipse cx="1255.7" cy="255.2" rx="9.9" ry="8.2" fill="#6a6a2a" opacity="0.85"/>
    <ellipse cx="1133.5" cy="253.8" rx="11.3" ry="8.5" fill="#d0a030" opacity="0.85"/>
    <ellipse cx="1265.6" cy="236.8" rx="8.5" ry="5.1" fill="#d0a030" opacity="0.85"/>
    <ellipse cx="1139.6" cy="236.3" rx="5.5" ry="5.4" fill="#c89a28" opacity="0.85"/>
    <ellipse cx="1276.5" cy="258.9" rx="10.1" ry="6.6" fill="#b89838" opacity="0.85"/>
    <ellipse cx="1153.2" cy="257.8" rx="5.6" ry="8.0" fill="#d8b038" opacity="0.85"/>
    <ellipse cx="1124.2" cy="238.3" rx="5.2" ry="8.8" fill="#c89a28" opacity="0.85"/>
    <ellipse cx="1245" cy="275" rx="45" ry="14" fill="#98a868" opacity="0.7"/>
    <!-- fog -->
    <ellipse cx="1100" cy="272" rx="50" ry="13" fill="#c8dce4" opacity="0.85"/>
    <ellipse cx="1160" cy="258" rx="35" ry="18" fill="#d4e0e4" opacity="0.8"/>
    <ellipse cx="1135" cy="282" rx="62" ry="9" fill="#b4ccd4" opacity="0.7"/>
    <ellipse cx="1070" cy="262" rx="16" ry="12" fill="#b8d0d8" opacity="0.7"/>
    <!-- ground tint -->
    <polygon points="1055,340 1278,330 1278,364 1055,364" fill="#c89850" opacity="0.6"/>
    <polygon points="1120,322 1150,318 1125,335 1110,336" fill="#e0d8c8" opacity="0.7"/>
    <polygon points="1072.0,301.3 1076.6,295.7 1085.2,296.9 1081.2,302.1" fill="#c4cad2"/>
    <polygon points="1072.0,301.3 1076.6,295.7 1078.6,301.3" fill="#2e3848"/>
    <rect x="1072.0" y="301.3" width="9.2" height="4.0" fill="#7a6048"/>
    <polygon points="1078.0,294.7 1082.0,289.9 1089.3,291.0 1085.9,295.4" fill="#c4cad2"/>
    <polygon points="1078.0,294.7 1082.0,289.9 1083.6,294.7" fill="#2e3848"/>
    <rect x="1078.0" y="294.7" width="7.9" height="3.4" fill="#7a6048"/>
    <polygon points="1084.0,295.9 1088.3,290.7 1096.3,291.9 1092.6,296.7" fill="#c4cad2"/>
    <polygon points="1084.0,295.9 1088.3,290.7 1090.2,295.9" fill="#2e3848"/>
    <rect x="1084.0" y="295.9" width="8.6" height="3.7" fill="#7a6048"/>
    <polygon points="1098.0,294.5 1102.6,289.0 1111.0,290.2 1107.1,295.3" fill="#c4cad2"/>
    <polygon points="1098.0,294.5 1102.6,289.0 1104.5,294.5" fill="#2e3848"/>
    <rect x="1098.0" y="294.5" width="9.1" height="3.9" fill="#7a6048"/>
    <polygon points="1142.0,301.6 1146.6,296.1 1155.1,297.3 1151.2,302.4" fill="#c4cad2"/>
    <polygon points="1142.0,301.6 1146.6,296.1 1148.5,301.6" fill="#2e3848"/>
    <rect x="1142.0" y="301.6" width="9.2" height="3.9" fill="#7a6048"/>
    <polygon points="1153.0,298.7 1157.7,293.0 1166.4,294.2 1162.4,299.5" fill="#c4cad2"/>
    <polygon points="1153.0,298.7 1157.7,293.0 1159.7,298.7" fill="#2e3848"/>
    <rect x="1153.0" y="298.7" width="9.4" height="4.0" fill="#7a6048"/>
    <polygon points="1161.0,298.7 1164.7,294.3 1171.5,295.2 1168.4,299.3" fill="#c4cad2"/>
    <polygon points="1161.0,298.7 1164.7,294.3 1166.3,298.7" fill="#2e3848"/>
    <rect x="1161.0" y="298.7" width="7.4" height="3.2" fill="#7a6048"/>
    <polygon points="1197.0,295.8 1200.7,291.4 1207.5,292.3 1204.3,296.4" fill="#c4cad2"/>
    <polygon points="1197.0,295.8 1200.7,291.4 1202.2,295.8" fill="#2e3848"/>
    <rect x="1197.0" y="295.8" width="7.3" height="3.1" fill="#7a6048"/>
    <polygon points="1226.0,295.1 1230.6,289.6 1239.0,290.8 1235.1,295.8" fill="#c4cad2"/>
    <polygon points="1226.0,295.1 1230.6,289.6 1232.5,295.1" fill="#2e3848"/>
    <rect x="1226.0" y="295.1" width="9.1" height="3.9" fill="#7a6048"/>
    <polygon points="1090.0,308.8 1095.1,302.7 1104.5,304.0 1100.1,309.7" fill="#c4cad2"/>
    <polygon points="1090.0,308.8 1095.1,302.7 1097.2,308.8" fill="#2e3848"/>
    <rect x="1090.0" y="308.8" width="10.1" height="4.3" fill="#7a6048"/>
    <polygon points="1096.0,309.5 1100.9,303.7 1109.9,304.9 1105.7,310.3" fill="#c4cad2"/>
    <polygon points="1096.0,309.5 1100.9,303.7 1102.9,309.5" fill="#2e3848"/>
    <rect x="1096.0" y="309.5" width="9.7" height="4.2" fill="#7a6048"/>
    <polygon points="1138.0,313.7 1142.0,308.9 1149.3,310.0 1145.9,314.4" fill="#c4cad2"/>
    <polygon points="1138.0,313.7 1142.0,308.9 1143.7,313.7" fill="#2e3848"/>
    <rect x="1138.0" y="313.7" width="7.9" height="3.4" fill="#7a6048"/>
    <polygon points="1167.0,313.0 1171.8,307.1 1180.8,308.4 1176.7,313.8" fill="#c4cad2"/>
    <polygon points="1167.0,313.0 1171.8,307.1 1173.9,313.0" fill="#2e3848"/>
    <rect x="1167.0" y="313.0" width="9.7" height="4.2" fill="#7a6048"/>
    <polygon points="1198.0,312.3 1202.7,306.6 1211.5,307.8 1207.4,313.1" fill="#c4cad2"/>
    <polygon points="1198.0,312.3 1202.7,306.6 1204.7,312.3" fill="#2e3848"/>
    <rect x="1198.0" y="312.3" width="9.4" height="4.0" fill="#7a6048"/>
    <polygon points="1203.0,311.7 1208.2,305.4 1218.0,306.8 1213.5,312.6" fill="#c4cad2"/>
    <polygon points="1203.0,311.7 1208.2,305.4 1210.5,311.7" fill="#2e3848"/>
    <rect x="1203.0" y="311.7" width="10.5" height="4.5" fill="#7a6048"/>
    <polygon points="1206.0,310.9 1211.5,304.3 1221.8,305.7 1217.1,311.8" fill="#c4cad2"/>
    <polygon points="1206.0,310.9 1211.5,304.3 1213.9,310.9" fill="#2e3848"/>
    <rect x="1206.0" y="310.9" width="11.1" height="4.7" fill="#7a6048"/>
    <polygon points="1268.0,309.4 1272.2,304.3 1280.1,305.4 1276.5,310.2" fill="#c4cad2"/>
    <polygon points="1268.0,309.4 1272.2,304.3 1274.1,309.4" fill="#2e3848"/>
    <rect x="1268.0" y="309.4" width="8.5" height="3.6" fill="#7a6048"/>
    <polygon points="1080.0,328.8 1086.0,321.6 1097.3,323.1 1092.1,329.9" fill="#c4cad2"/>
    <polygon points="1080.0,328.8 1086.0,321.6 1088.6,328.8" fill="#2e3848"/>
    <rect x="1080.0" y="328.8" width="12.1" height="5.2" fill="#7a6048"/>
    <polygon points="1122.0,330.8 1126.8,325.1 1135.7,326.3 1131.6,331.7" fill="#c4cad2"/>
    <polygon points="1122.0,330.8 1126.8,325.1 1128.9,330.8" fill="#2e3848"/>
    <rect x="1122.0" y="330.8" width="9.6" height="4.1" fill="#7a6048"/>
    <polygon points="1136.0,326.3 1140.4,321.0 1148.7,322.2 1144.9,327.1" fill="#c4cad2"/>
    <polygon points="1136.0,326.3 1140.4,321.0 1142.4,326.3" fill="#2e3848"/>
    <rect x="1136.0" y="326.3" width="8.9" height="3.8" fill="#7a6048"/>
    <polygon points="1186.0,324.2 1191.8,317.3 1202.5,318.8 1197.6,325.2" fill="#c4cad2"/>
    <polygon points="1186.0,324.2 1191.8,317.3 1194.3,324.2" fill="#2e3848"/>
    <rect x="1186.0" y="324.2" width="11.6" height="5.0" fill="#7a6048"/>
    <polygon points="1194.0,323.3 1199.2,317.0 1208.9,318.4 1204.5,324.2" fill="#c4cad2"/>
    <polygon points="1194.0,323.3 1199.2,317.0 1201.5,323.3" fill="#2e3848"/>
    <rect x="1194.0" y="323.3" width="10.5" height="4.5" fill="#7a6048"/>
    <polygon points="1207.0,329.1 1212.6,322.4 1223.0,323.8 1218.2,330.1" fill="#c4cad2"/>
    <polygon points="1207.0,329.1 1212.6,322.4 1215.0,329.1" fill="#2e3848"/>
    <rect x="1207.0" y="329.1" width="11.2" height="4.8" fill="#7a6048"/>
    <polygon points="1259.0,330.0 1264.4,323.5 1274.4,324.9 1269.8,330.9" fill="#c4cad2"/>
    <polygon points="1259.0,330.0 1264.4,323.5 1266.7,330.0" fill="#2e3848"/>
    <rect x="1259.0" y="330.0" width="10.8" height="4.6" fill="#7a6048"/>
    <polygon points="1140.0,341.6 1146.0,334.5 1157.0,336.0 1151.9,342.7" fill="#c4cad2"/>
    <polygon points="1140.0,341.6 1146.0,334.5 1148.5,341.6" fill="#2e3848"/>
    <rect x="1140.0" y="341.6" width="11.9" height="5.1" fill="#7a6048"/>
    <polygon points="1147.0,345.6 1153.6,337.7 1165.7,339.4 1160.1,346.7" fill="#c4cad2"/>
    <polygon points="1147.0,345.6 1153.6,337.7 1156.4,345.6" fill="#2e3848"/>
    <rect x="1147.0" y="345.6" width="13.1" height="5.6" fill="#7a6048"/>
    <polygon points="1149.0,343.3 1154.7,336.5 1165.3,337.9 1160.4,344.3" fill="#c4cad2"/>
    <polygon points="1149.0,343.3 1154.7,336.5 1157.2,343.3" fill="#2e3848"/>
    <rect x="1149.0" y="343.3" width="11.4" height="4.9" fill="#7a6048"/>
    <polygon points="1187.0,343.6 1191.8,337.9 1200.6,339.1 1196.5,344.4" fill="#c4cad2"/>
    <polygon points="1187.0,343.6 1191.8,337.9 1193.8,343.6" fill="#2e3848"/>
    <rect x="1187.0" y="343.6" width="9.5" height="4.1" fill="#7a6048"/>
    <polygon points="1212.0,345.9 1218.1,338.6 1229.5,340.2 1224.2,347.0" fill="#c4cad2"/>
    <polygon points="1212.0,345.9 1218.1,338.6 1220.7,345.9" fill="#2e3848"/>
    <rect x="1212.0" y="345.9" width="12.2" height="5.2" fill="#7a6048"/>
    <polygon points="1237.0,340.3 1243.5,332.5 1255.6,334.1 1250.0,341.4" fill="#c4cad2"/>
    <polygon points="1237.0,340.3 1243.5,332.5 1246.3,340.3" fill="#2e3848"/>
    <rect x="1237.0" y="340.3" width="13.0" height="5.6" fill="#7a6048"/>
    <polygon points="1065.0,355.9 1070.9,348.8 1082.0,350.3 1076.9,356.9" fill="#c4cad2"/>
    <polygon points="1065.0,355.9 1070.9,348.8 1073.5,355.9" fill="#2e3848"/>
    <rect x="1065.0" y="355.9" width="11.9" height="5.1" fill="#7a6048"/>
    <polygon points="1148.0,352.7 1154.3,345.2 1166.0,346.8 1160.6,353.8" fill="#c4cad2"/>
    <polygon points="1148.0,352.7 1154.3,345.2 1157.0,352.7" fill="#2e3848"/>
    <rect x="1148.0" y="352.7" width="12.6" height="5.4" fill="#7a6048"/>
    <polygon points="1158.0,356.9 1163.8,350.0 1174.5,351.5 1169.5,357.9" fill="#c4cad2"/>
    <polygon points="1158.0,356.9 1163.8,350.0 1166.2,356.9" fill="#2e3848"/>
    <rect x="1158.0" y="356.9" width="11.5" height="4.9" fill="#7a6048"/>
    <polygon points="1178.0,358.3 1184.0,351.1 1195.3,352.6 1190.1,359.4" fill="#c4cad2"/>
    <polygon points="1178.0,358.3 1184.0,351.1 1186.6,358.3" fill="#2e3848"/>
    <rect x="1178.0" y="358.3" width="12.1" height="5.2" fill="#7a6048"/>
    <polygon points="1231.0,352.3 1237.3,344.8 1249.0,346.4 1243.6,353.4" fill="#c4cad2"/>
    <polygon points="1231.0,352.3 1237.3,344.8 1240.0,352.3" fill="#2e3848"/>
    <rect x="1231.0" y="352.3" width="12.6" height="5.4" fill="#7a6048"/>
    <rect x="1198" y="329" width="17" height="8" fill="#2a5a70"/>
    <polygon points="1107,346 1118,334 1129,346 1129,358 1107,358" fill="#e8c050"/>
    <polygon points="1105,346 1118,332 1120,334 1109,347" fill="#2e3848"/>
    <polygon points="1072,352 1080,344 1088,352 1088,362 1072,362" fill="#d8b040"/>
  </g>
  <circle cx="1166" cy="369" r="2" fill="#ddd"/>
</g>

<!-- ===== TV ===== -->
<g id="tv">
  <polygon points="1326,381 1346,372 1353,372 1334,384" fill="#1a1a1a"/>
  <polygon points="1544,381 1524,372 1517,372 1536,384" fill="#1a1a1a"/>
  <rect x="1312" y="229.6" width="249.6" height="143.1" fill="#141416"/>
  <rect x="1415" y="370" width="30" height="4" fill="#222"/>
  <clipPath id="tvclip"><rect x="1315" y="232" width="244" height="136.4"/></clipPath>
  <g clip-path="url(#tvclip)">
    <rect x="1315" y="232" width="244" height="81" fill="url(#tvsky)"/>
    <rect x="1315" y="313" width="244" height="55.4" fill="url(#tvgrass)"/>
    <!-- clouds -->
    <ellipse cx="1345" cy="283" rx="30" ry="9" fill="#f2f4f8"/>
    <ellipse cx="1325" cy="280" rx="12" ry="8" fill="#fafbfd"/>
    <ellipse cx="1385" cy="291" rx="40" ry="5" fill="#e2eaf4"/>
    <ellipse cx="1445" cy="255" rx="42" ry="20" fill="#eef2f8"/>
    <ellipse cx="1425" cy="240" rx="22" ry="9" fill="#f6f8fb"/>
    <ellipse cx="1470" cy="245" rx="25" ry="12" fill="#e8eef6"/>
    <ellipse cx="1455" cy="278" rx="32" ry="9" fill="#d4dce8"/>
    <ellipse cx="1400" cy="262" rx="8" ry="5" fill="#f0f4f8"/>
    <ellipse cx="1395" cy="286" rx="12" ry="5" fill="#f2f5f9"/>
    <!-- mountains -->
    <polygon points="1315,298 1345,302 1370,296 1400,290 1425,288 1440,284 1460,290 1490,296 1490,313 1315,313" fill="#4a72a0"/>
    <polygon points="1315,287 1335,291 1360,302 1390,311 1395,313 1315,313" fill="#33602e"/>
    <polygon points="1390,313 1480,310 1480,316 1390,316" fill="#3a6a28"/>
    <!-- dark grass band -->
    <polygon points="1315,330 1500,328 1520,345 1315,345" fill="#3e8a1a" opacity="0.6"/>
    <!-- trees -->
    <path d="M1498 232 H1559 V345 H1535 L1515 336 L1498 332 L1482 326 L1470 322 L1462 316 L1466 306 L1474 300 L1478 290 L1484 280 L1482 268 L1490 258 L1488 246 Z" fill="#263e1c"/>
    <ellipse cx="1520" cy="262" rx="30" ry="26" fill="#2f4a22" opacity="0.8"/>
    <ellipse cx="1472" cy="310" rx="12" ry="9" fill="#36602a"/>
    <ellipse cx="1450" cy="314" rx="9" ry="6" fill="#3a6a2a"/>
    <ellipse cx="1425" cy="314" rx="8" ry="4" fill="#3a6a2a"/>
    <rect x="1525" y="320" width="3" height="20" fill="#2a2a1a"/>
    <rect x="1508" y="322" width="2.5" height="14" fill="#2a2a1a"/>
    <!-- road -->
    <path d="M1486 326 L1520 328 L1559 334 V368.4 H1520 Z" fill="#8a8c88"/>
    <path d="M1496 330 L1525 334 L1550 368 H1528 Z" fill="#a4a6a2" opacity="0.6"/>
  </g>
</g>

<!-- ===== TOP LABELS ===== -->
<g font-size="36.5" fill="#111" stroke="#111" stroke-width="0.7">
  <text font-size="36.5" x="232.7" y="449.5" textLength="49.5" lengthAdjust="spacingAndGlyphs">PC</text>
  <text font-size="36.5" x="560.9" y="449.5" textLength="119.7" lengthAdjust="spacingAndGlyphs">Laptop</text>
  <text font-size="36.5" x="811.0" y="449.5" textLength="217.9" lengthAdjust="spacingAndGlyphs">Mobile phone</text>
  <text font-size="36.5" x="1095.6" y="450" textLength="151.0" lengthAdjust="spacingAndGlyphs">Displayer</text>
  <text font-size="36.5" x="1430.8" y="457" textLength="44.2" lengthAdjust="spacingAndGlyphs">TV</text>
</g>

<!-- ===== TOP BRACKETS ===== -->
<g stroke="#050505" stroke-width="4" fill="none" stroke-linecap="butt">
  <path d="M253 465 V520 H922 V465"/>
  <path d="M622.5 465 V520"/>
  <path d="M1155 471 V512 H1452 V471"/>
</g>

<!-- ===== BOTTOM BRACKET ===== -->
<g stroke="#050505" stroke-width="4" fill="none" stroke-linecap="butt">
  <path d="M164 1295 V1235 H1402.5 V1295"/>
  <path d="M430 1235 V1295 M671 1235 V1295 M892.5 1235 V1295 M1141 1235 V1295"/>
</g>

<!-- ===== GAME PLAYER ===== -->
<g id="ps2">
  <polygon points="167.8,1299.4 174.8,1304 174.8,1491.6 167.8,1491.6" fill="#18181a"/>
  <polygon points="76.4,1322 167.8,1299.4 167.8,1491.6 76.4,1491.6" fill="url(#ps2g)"/>
  <polygon points="76.4,1419.7 167.8,1412 167.8,1414 76.4,1421.7" fill="#202022"/>
  <polygon points="76.4,1421.7 167.8,1414 167.8,1491.6 76.4,1491.6" fill="url(#ps2l)"/>
  <polygon points="70,1499 80,1480 155,1480 160,1472 172,1472 182,1499" fill="#1a1a1c"/>
  <rect x="69" y="1497" width="113" height="3" fill="#0e0e10"/>
  <rect x="160" y="1340" width="2" height="20" fill="#333"/>
  <!-- controller -->
  <path d="M226 1431 Q232 1420 240 1422 Q250 1424 254 1432" stroke="#1a1a1c" stroke-width="2" fill="none"/>
  <path d="M203 1422 Q212 1418 222 1425 L240 1432 L260 1430 Q270 1424 280 1428 Q289 1436 291 1455 Q292 1480 288 1494 Q282 1500 276 1498 Q270 1494 266 1481 Q260 1472 255 1478 Q248 1472 240 1474 Q232 1478 224 1476 Q214 1488 204 1497 Q196 1500 191 1494 Q187 1480 189 1460 Q191 1440 196 1430 Z" fill="#1c1c1e"/>
  <path d="M198 1440 Q205 1426 222 1432 Q232 1438 230 1455 Q226 1466 212 1466 Q199 1462 198 1440 Z" fill="#232325" stroke="#3a3a3c" stroke-width="1"/>
  <path d="M262 1434 Q278 1428 286 1444 Q290 1458 278 1466 Q264 1468 258 1456 Q254 1442 262 1434 Z" fill="#232325" stroke="#3a3a3c" stroke-width="1"/>
  <circle cx="237" cy="1462" r="8" fill="#202022" stroke="#5a5a5c" stroke-width="1.2"/>
  <circle cx="264" cy="1465" r="8" fill="#202022" stroke="#5a5a5c" stroke-width="1.2"/>
  <circle cx="276" cy="1437" r="2.3" fill="#4a6070"/><circle cx="285" cy="1445" r="2.3" fill="#705060"/><circle cx="268" cy="1444" r="2.3" fill="#605060"/><circle cx="280" cy="1452" r="2.3" fill="#4a5a70"/>
  <path d="M209 1437 L214 1435 L216 1441 L222 1440 L223 1445 L217 1447 L219 1453 L214 1455 L212 1449 L206 1450 L205 1445 L211 1443 Z" fill="#303032"/>
  <rect x="248" y="1458" width="4" height="6" fill="#6a3040"/>
  <rect x="237" y="1436" width="12" height="2" fill="#3a3a3c"/>
</g>

<!-- ===== MOBILE PHONE (bottom) ===== -->
<use href="#phone" transform="translate(-480,1068.4)"/>

<!-- ===== TV BOX ===== -->
<g id="tvbox">
  <path d="M556 1350 Q556 1346 562 1345.5 L704 1339.5 Q726 1339 740 1346 L802 1387 Q807 1391 807 1397 L804 1426 Q803 1431 796 1432 L626 1447 Q610 1448 600 1438 L560 1396 Q554 1390 554 1380 Z" fill="#222326"/>
  <path d="M556 1350 Q556 1346 562 1345.5 L704 1339.5 Q726 1339 740 1346 L802 1387 Q807 1391 805 1396 L620 1419 Q606 1420 598 1412 L562 1378 Q554 1370 555 1362 Z" fill="#2b2c2f"/>
  <path d="M555 1372 L598 1413 Q606 1421 620 1420 L806 1397" stroke="#161719" stroke-width="2" fill="none"/>
  <rect x="676" y="1424" width="22" height="9" rx="3" fill="#141415" stroke="#444" stroke-width="1"/>
  <rect x="731" y="1418" width="22" height="9" fill="#141415" stroke="#3a3a3a" stroke-width="1"/>
  <circle cx="655" cy="1434" r="2" fill="#0e0e0e"/><circle cx="783" cy="1423" r="2" fill="#0e0e0e"/>
</g>

<!-- ===== PC HOST ===== -->
<g id="pchost">
  <polygon points="835.8,1336.8 877.8,1301 880.5,1495 835.8,1492" fill="#1f2126"/>
  <polygon points="868,1368 878,1360 878,1465 868,1463" fill="#b02828"/>
  <polygon points="877.8,1301 943.8,1303 943.8,1495 880.5,1495" fill="#1e2024"/>
  <polygon points="879,1303 943,1305 943,1352 879,1352" fill="#0e0e10"/>
  <rect x="903" y="1306" width="12" height="3" fill="#777"/>
  <polygon points="880,1350 912,1370 942,1350 942,1356 912,1375 880,1356" fill="#e0a0a0"/>
  <polygon points="880,1352 912,1372 942,1352 942,1353 912,1373 880,1353" fill="#c84040"/>
  <path d="M878 1304 V1352 M943 1305 V1350" stroke="#c8c8c8" stroke-width="1.5" stroke-dasharray="4 3"/>
  <polygon points="893,1495 900,1472 930,1472 937,1495" fill="#0c0c0e" stroke="#888" stroke-width="1.5"/>
  <line x1="912" y1="1373" x2="912" y2="1495" stroke="#17181c" stroke-width="1"/>
</g>

<!-- ===== CAMERA ===== -->
<g id="camera">
  <!-- handle bar -->
  <path d="M1122 1306 L1150 1301 L1242 1296 L1244 1326 L1150 1336 L1128 1338 Z" fill="#2a2a2c"/>
  <!-- eyepiece tube -->
  <path d="M1211 1301 L1264 1292 L1266 1328 L1212 1330 Z" fill="#262628"/>
  <ellipse cx="1284" cy="1308" rx="18" ry="25" transform="rotate(-8 1284 1308)" fill="#252527"/>
  <ellipse cx="1290" cy="1309" rx="11" ry="20" transform="rotate(-8 1290 1309)" fill="#1a1a1c"/>
  <!-- mic holder -->
  <rect x="1068" y="1285" width="38" height="26" rx="6" fill="#2a2a2c"/>
  <ellipse cx="1076" cy="1297" rx="9" ry="12" fill="#1c1c1e" stroke="#3a3a3c" stroke-width="1.5"/>
  <path d="M1062 1318 Q1062 1308 1072 1308 L1120 1306 Q1134 1308 1134 1320 L1132 1342 Q1130 1350 1120 1351 L1078 1351 Q1064 1350 1063 1340 Z" fill="#2c2c2e"/>
  <rect x="1082" y="1348" width="14" height="6" fill="#222"/>
  <rect x="1068" y="1318" width="12" height="3" fill="#555"/>
  <!-- LCD -->
  <polygon points="1149.5,1301 1213.5,1310.7 1211.5,1359 1151.4,1351.4" fill="#343436"/>
  <polygon points="1153,1305 1209,1313 1207.5,1355 1155,1348" fill="#2b2b2d"/>
  <rect x="1210" y="1322" width="16" height="34" fill="#222224"/>
  <!-- body -->
  <path d="M1169 1351 L1258 1347.5 Q1272 1350 1277 1371 L1277 1417 Q1272 1436 1252 1440.5 L1180.5 1444.4 Q1170 1442 1169 1434.7 Z" fill="#232325"/>
  <g fill="#3c3c3e">
    <rect x="1232" y="1372" width="7" height="5" rx="1"/><rect x="1244" y="1371" width="7" height="5" rx="1"/><rect x="1256" y="1370" width="7" height="5" rx="1"/>
    <rect x="1232" y="1384" width="7" height="5" rx="1"/><rect x="1244" y="1383" width="7" height="5" rx="1"/><rect x="1256" y="1382" width="7" height="5" rx="1"/>
    <rect x="1232" y="1396" width="7" height="5" rx="1"/><rect x="1244" y="1395" width="7" height="5" rx="1"/><rect x="1256" y="1394" width="7" height="5" rx="1"/>
    <rect x="1210" y="1376" width="8" height="5" rx="1"/><rect x="1210" y="1390" width="8" height="5" rx="1"/><rect x="1210" y="1404" width="8" height="5" rx="1"/>
    <rect x="1190" y="1380" width="6" height="22" rx="2"/>
    <rect x="1200" y="1418" width="55" height="3"/>
    <rect x="1236" y="1356" width="14" height="3" fill="#888"/>
  </g>
  <!-- lens barrel -->
  <path d="M1093 1369 L1175 1361 Q1182 1400 1175 1438.6 L1111 1440.5 Z" fill="#1c1c1e"/>
  <ellipse cx="1145" cy="1401" rx="12" ry="38" fill="#29292b"/>
  <ellipse cx="1163" cy="1400" rx="10" ry="38" fill="#222224"/>
  <ellipse cx="1125" cy="1403" rx="9" ry="36" fill="#202022"/>
  <g stroke="#38383a" stroke-width="1.2"><path d="M1140 1370 V1432 M1148 1368 V1434 M1158 1366 V1434"/></g>
  <!-- lens hood -->
  <path d="M1024.5 1372 Q1024 1367 1030 1367 L1093 1365 L1111 1372.7 L1111 1461.8 L1097 1465.7 L1030 1442 Q1026 1440 1027.4 1436 Z" fill="#2e2e30"/>
  <polygon points="1029.4,1378.5 1089,1386 1093,1454 1035,1436.6" fill="#141416"/>
  <polygon points="1055,1390 1062,1391 1064,1440 1058,1438" fill="#2a2a2c"/>
</g>

<!-- ===== PROJECTOR ===== -->
<g id="projector">
  <polygon points="1299,1359 1304.5,1418 1378,1458 1367.5,1408" fill="#181c26"/>
  <g stroke="#2a3040" stroke-width="1.5">
    <line x1="1306" y1="1380" x2="1355" y2="1405"/><line x1="1306" y1="1388" x2="1356" y2="1413"/><line x1="1306" y1="1396" x2="1358" y2="1421"/><line x1="1307" y1="1404" x2="1360" y2="1429"/>
  </g>
  <path d="M1302 1362 Q1300 1358 1306 1357 L1390 1343 Q1395 1342 1400 1342 L1440 1342 Q1446 1342 1450 1344 L1528 1380 Q1533 1383 1528 1384 L1370 1411 Q1366 1412 1362 1410 Z" fill="#1e222c"/>
  <polygon points="1320,1363 1392,1350 1438,1349 1505,1380 1372,1402" fill="#232833" opacity="0.9"/>
  <polygon points="1367.5,1411 1532,1383 1533.75,1426.75 1378,1458" fill="#44474f"/>
  <polygon points="1367.5,1411 1532,1383 1532.3,1387 1368,1415" fill="#9a9ca4"/>
  <polygon points="1425,1405 1527,1388 1529,1424 1430,1446" fill="url(#grille)"/>
  <circle cx="1405" cy="1429.4" r="21" fill="#b8bcc8"/>
  <circle cx="1405" cy="1429.4" r="17.5" fill="#1e2a4a"/>
  <circle cx="1405" cy="1429.4" r="12" fill="#5a7ac0"/>
  <circle cx="1402" cy="1426" r="6" fill="#e0ecff"/>
</g>

<!-- ===== RED TEXT LABELS ===== -->
<g fill="#DA123C">
  <text x="153.0" y="674" font-size="47.4" textLength="397.7" lengthAdjust="spacingAndGlyphs">Audio/video output</text>
  <text x="899.0" y="598" font-size="48.7" textLength="191.1" lengthAdjust="spacingAndGlyphs">Loop-out</text>
  <text x="234.9" y="891.2" font-size="48.8" textLength="193.1" lengthAdjust="spacingAndGlyphs">Mic input</text>
  <text x="1002.8" y="774.4" font-size="47.2" textLength="269.3" lengthAdjust="spacingAndGlyphs">Audio output</text>
  <text x="1036.7" y="987.5" font-size="46.8" textLength="232.3" lengthAdjust="spacingAndGlyphs">Power port</text>
  <text x="783.4" y="1132" font-size="49" textLength="250.6" lengthAdjust="spacingAndGlyphs">Signal input</text>
</g>
<g fill="#111" stroke="#111" stroke-width="0.6">
  <text x="386.3" y="622.2" font-size="49" textLength="164.9" lengthAdjust="spacingAndGlyphs">USB3.0</text>
  <text x="550.3" y="1135.6" font-size="48.4" textLength="123.9" lengthAdjust="spacingAndGlyphs">HDMI</text>
</g>

<!-- ===== BOTTOM LABELS ===== -->
<g font-size="35.3" fill="#111" stroke="#111" stroke-width="0.7">
  <text font-size="35.3" x="74.9" y="1541.8" textLength="207.1" lengthAdjust="spacingAndGlyphs">Game player</text>
  <text x="334.7" y="1525.3" font-size="34" textLength="218.3" lengthAdjust="spacingAndGlyphs">Mobile phone</text>
  <text font-size="35.3" x="629.0" y="1542" textLength="114.0" lengthAdjust="spacingAndGlyphs">TV box</text>
  <text font-size="35.3" x="837.9" y="1542" textLength="136.3" lengthAdjust="spacingAndGlyphs">PC Host</text>
  <text font-size="35.3" x="1103.4" y="1542" textLength="126.7" lengthAdjust="spacingAndGlyphs">Camera</text>
  <text font-size="35.3" x="1356.9" y="1538" textLength="146.1" lengthAdjust="spacingAndGlyphs">Projector</text>
</g>
<text x="311.4" y="1559.8" font-size="32.5" fill="#DA123C" textLength="266.7" lengthAdjust="spacingAndGlyphs">(need converter)</text>

<!-- ===== WATERMARK ===== -->
<g id="watermark">
  <path d="M521 571 Q565 560 604 537 Q596 558 585 572 Q560 572 521 571 Z" fill="#b4cce4" opacity="0.85"/>
  <path d="M564 631 Q590 615 608 582 Q606 604 596 616 Q582 626 564 631 Z" fill="#b4cce4" opacity="0.85"/>
  <text x="597" y="616" font-size="30" font-weight="bold" fill="#c4c4c4" textLength="108" lengthAdjust="spacingAndGlyphs">Heaven</text>
  <text x="706" y="616" font-size="30" font-weight="bold" fill="#bccfe4" textLength="74" lengthAdjust="spacingAndGlyphs">Bird</text>
</g>

<!-- ===== USB CABLE ===== -->
<g id="usb">
  <rect x="563" y="528" width="30" height="31" fill="#e6e6e8" stroke="#c4c4c6" stroke-width="1"/>
  <rect x="571" y="535" width="5" height="4" fill="#222"/><rect x="581" y="535" width="5" height="4" fill="#222"/>
  <rect x="559" y="558" width="35.5" height="46" rx="2" fill="#1c1d20"/>
  <rect x="569" y="602" width="19" height="18" rx="2" fill="#222326"/>
  <rect x="572.5" y="618" width="11.5" height="40" fill="#111"/>
  <rect x="569" y="655" width="19" height="16" rx="2" fill="#222326"/>
  <rect x="559" y="669.6" width="35.5" height="46" rx="2" fill="#202124"/>
  <rect x="563" y="715" width="30" height="31" fill="#e6e6e8" stroke="#c4c4c6" stroke-width="1"/>
  <rect x="571" y="728" width="5" height="4" fill="#222"/><rect x="581" y="728" width="5" height="4" fill="#222"/>
  <path d="M559 569 Q575 566 594 556 V575 Q580 574 559 573 Z" fill="#6a90c0" opacity="0.3"/>
</g>

<!-- ===== LOOP-OUT HDMI CABLE ===== -->
<g id="hdmiloop">
  <path d="M750 660 V630 Q750 622.5 758 622.5 H1297 Q1305 622.5 1305 614 V600" stroke="#1e1e1f" stroke-width="9" fill="none"/>
  <!-- device-end connector -->
  <rect x="740" y="658" width="20.5" height="20" rx="2" fill="#1e1e1f"/>
  <path d="M733 677.5 H767 L768.7 695 L767 710 L768.7 730 V732.4 H731 V730 L733 710 L731 695 Z" fill="#2a2a2c"/>
  <rect x="738.5" y="732" width="23.5" height="15.6" fill="url(#gold)"/>
  <rect x="743" y="736" width="3" height="3" fill="#222"/><rect x="754" y="736" width="3" height="3" fill="#222"/>
  <!-- display-end connector -->
  <rect x="1295" y="588" width="19" height="18" rx="2" fill="#1e1e1f"/>
  <path d="M1287 534 H1323 L1323.6 555 L1321 570 L1320 589 H1290 L1288.5 570 L1286 555 Z" fill="#2a2a2c"/>
  <rect x="1292" y="519" width="25" height="15.5" fill="url(#gold)"/>
  <rect x="1297" y="527" width="3" height="3" fill="#222"/><rect x="1309" y="527" width="3" height="3" fill="#222"/>
</g>

<!-- ===== HDMI INPUT CABLE ===== -->
<g id="hdmiin">
  <rect x="699.4" y="1012.3" width="22.3" height="16" fill="url(#gold)"/>
  <rect x="704" y="1018" width="3" height="3" fill="#222"/><rect x="714" y="1018" width="3" height="3" fill="#222"/>
  <path d="M692 1028 H729.7 V1050 L728 1060 L729.7 1070 V1084 H691.4 V1070 L693 1060 L691.4 1050 Z" fill="#2a2a2c"/>
  <rect x="699" y="1083" width="22.7" height="19" rx="2" fill="#1e1e1f"/>
  <rect x="704" y="1100" width="13" height="37" fill="#111"/>
  <rect x="699" y="1136" width="22.7" height="19" rx="2" fill="#1e1e1f"/>
  <path d="M692 1154 H729.7 V1170 L728 1180 L729.7 1190 V1208.4 H691.4 V1190 L693 1180 L691.4 1170 Z" fill="#2a2a2c"/>
  <rect x="699.4" y="1208" width="22.3" height="16" fill="url(#gold)"/>
  <rect x="704" y="1215" width="3" height="3" fill="#222"/><rect x="714" y="1215" width="3" height="3" fill="#222"/>
</g>

<!-- ===== MICROPHONE ===== -->
<g id="mic">
  <!-- tripod -->
  <path d="M167 970 L113 991 M167 970 L230 991 M166.5 972 L165 1020" stroke="#1a1a1a" stroke-width="3.2" stroke-linecap="round"/>
  <circle cx="113" cy="991" r="3.2" fill="#1a1a1a"/><circle cx="230" cy="991" r="3.2" fill="#1a1a1a"/><circle cx="165" cy="1020" r="3.2" fill="#1a1a1a"/>
  <rect x="158" y="963" width="18" height="15" rx="5" fill="#1e1e1e"/>
  <rect x="160.5" y="933" width="13" height="34" fill="#151515"/>
  <path d="M145 915 L175 903 L181 918 L173 937 L160 937 Z" fill="#161616"/>
  <!-- cable tail -->
  <path d="M72 961 L54 971" stroke="#111" stroke-width="4" fill="none" stroke-linecap="round"/>
  <path d="M70 958 L83 952 L86 959 L73 965 Z" fill="#222"/>
  <!-- silver ferrule -->
  <path d="M81 951 L104 936 L111 945 L86 959 Z" fill="#b8b8ba"/>
  <path d="M83 953 L105 939 L107 941 L84 955 Z" fill="#e8e8ea"/>
  <!-- body -->
  <path d="M104 935 L186 888 L216 906 L112 946 Z" fill="#434345"/>
  <path d="M108 937 L186 892 L196 898 L112 942 Z" fill="#58585a" opacity="0.7"/>
  <!-- head -->
  <path d="M183 889 L206 872 Q220 862 228 870 L234 880 Q238 890 228 898 L214 907 Z" fill="#333336"/>
  <path d="M196 880 L203 875 L220 901 L213 906 Z" fill="#2a2a2c"/>
  <path d="M186 889 L196 882 L212 905 L203 909 Z" fill="#3d3d40"/>
</g>

<!-- ===== AUDIO CABLES ===== -->
<g id="cable-mic">
  <rect x="182.5" y="932.0" width="35.0" height="5" rx="1.5" fill="#c8b478"/>
  <rect x="188.5" y="932.0" width="2" height="5" fill="#3a3428"/>
  <rect x="197.5" y="932.0" width="2" height="5" fill="#3a3428"/>
  <rect x="206.5" y="932.0" width="2" height="5" fill="#3a3428"/>
  <rect x="217.5" y="928.0" width="65.0" height="13" rx="3" fill="#1e1e1e"/>
  <rect x="219.5" y="929.5" width="61.0" height="2.5" fill="#3a3a3a"/>
  <rect x="280.5" y="932.5" width="31.5" height="4" fill="#111"/>
  <rect x="310.0" y="928.0" width="65.0" height="13" rx="3" fill="#1e1e1e"/>
  <rect x="312.0" y="929.5" width="61.0" height="2.5" fill="#3a3a3a"/>
  <rect x="375.0" y="932.0" width="36.0" height="5" rx="1.5" fill="#c8b478"/>
  <rect x="379.0" y="932.0" width="2" height="5" fill="#3a3428"/>
  <rect x="388.3" y="932.0" width="2" height="5" fill="#3a3428"/>
  <rect x="397.7" y="932.0" width="2" height="5" fill="#3a3428"/>
</g>
<g id="cable-audio">
  <rect x="1019.0" y="801.3" width="34.0" height="5" rx="1.5" fill="#c8b478"/>
  <rect x="1025.0" y="801.3" width="2" height="5" fill="#3a3428"/>
  <rect x="1033.7" y="801.3" width="2" height="5" fill="#3a3428"/>
  <rect x="1042.3" y="801.3" width="2" height="5" fill="#3a3428"/>
  <rect x="1053.0" y="797.3" width="65.6" height="13" rx="3" fill="#1e1e1e"/>
  <rect x="1055.0" y="798.8" width="61.6" height="2.5" fill="#3a3a3a"/>
  <rect x="1116.6" y="801.8" width="53.9" height="4" fill="#111"/>
  <rect x="1168.5" y="797.3" width="64.5" height="13" rx="3" fill="#1e1e1e"/>
  <rect x="1170.5" y="798.8" width="60.5" height="2.5" fill="#3a3a3a"/>
  <rect x="1233.0" y="801.3" width="36.5" height="5" rx="1.5" fill="#c8b478"/>
  <rect x="1237.0" y="801.3" width="2" height="5" fill="#3a3428"/>
  <rect x="1246.5" y="801.3" width="2" height="5" fill="#3a3428"/>
  <rect x="1256.0" y="801.3" width="2" height="5" fill="#3a3428"/>
</g>

<!-- ===== HEADPHONES ===== -->
<g id="headphones">
  <path d="M1283 782 L1284 735 Q1285 705 1296 690 Q1306 679 1320 677 L1349 676 Q1360 678 1364 690 Q1369 705 1370 720 L1371 744 L1341 746 L1336 713 Q1333 703 1330 703 Q1325 705 1322 722 L1321 784 Z" fill="#1a1c20"/>
  <path d="M1330 703 Q1334 692 1344 685 Q1356 681 1362 690 Q1368 703 1370 720 L1371 744 L1341 746 L1336 713 Z" fill="#1f4596"/>
  <path d="M1283 771.5 H1321 V784 H1283 Z" fill="#2050a4"/>
  <path d="M1283 786 Q1279 815 1290 841 Q1302 855 1325 855 Q1345 856 1360 840 Q1378 822 1385 800 Q1390 775 1378 758 Q1365 748 1350 749 Q1332 750 1323 762 L1321 784 H1283 Z" fill="#15171b"/>
  <path d="M1292 802 Q1322 786 1350 804 Q1366 818 1370 836" stroke="#262a32" stroke-width="2" fill="none"/>
  <path d="M1288 824 Q1318 808 1343 826 Q1355 838 1357 848" stroke="#22262d" stroke-width="2" fill="none"/>
  <path d="M1325 770 Q1360 770 1380 800" stroke="#22252b" stroke-width="2" fill="none"/>
  <circle cx="1381" cy="815" r="2" fill="#333"/>
</g>

<!-- ===== POWER CABLE + ADAPTER ===== -->
<g id="power">
  <rect x="1014.4" y="931" width="12" height="7" rx="1" fill="#c8b080"/>
  <rect x="1016" y="932.5" width="9" height="3" fill="#888"/>
  <rect x="1026" y="926.7" width="45" height="17" rx="3" fill="#26272a"/>
  <rect x="1029" y="929" width="39" height="3" fill="#3a3b3e"/>
  <polygon points="1070,928 1092,932.5 1092,937 1070,942" fill="#2a2b2e"/>
  <rect x="1090" y="932.8" width="195" height="4" fill="#4a4a4c"/>
  <line x1="1090" y1="934.8" x2="1285" y2="934.8" stroke="#222" stroke-width="4" stroke-dasharray="2 2"/>
  <polygon points="1304.5,922.8 1313.6,916 1370,905.7 1385.8,913.6 1385.8,960.9 1319,978 1305.8,968.7" fill="#19191b"/>
  <polygon points="1304.5,922.8 1313.6,916 1370,905.7 1385.8,913.6 1322.8,918.9" fill="#2e2e32"/>
  <polygon points="1322.8,918.9 1385.8,913.6 1385.8,916 1322.8,921.5" fill="#3a3a3e"/>
  <line x1="1322.8" y1="919" x2="1319" y2="978" stroke="#2a2a2e" stroke-width="1.5"/>
  <rect x="1307" y="932" width="7" height="25" fill="#0c0c0d" stroke="#333" stroke-width="1"/>
  <polygon points="1386,915 1401.6,913.5 1401.6,918.5 1386,920" fill="#d0d0d2"/>
  <polygon points="1386,932 1401.6,930.5 1401.6,935.5 1386,937" fill="#d0d0d2"/>
</g>

<!-- ===== CAPTURE DEVICE ===== -->
<g id="device">
  <rect x="452" y="870" width="541" height="112.5" rx="53" ry="56" fill="#222223"/>
  <rect x="452" y="755" width="540.5" height="112" rx="52" ry="56" fill="#212122"/>
  <line x1="500" y1="868.5" x2="945" y2="868.5" stroke="#131313" stroke-width="2"/>
  <line x1="500" y1="870.5" x2="945" y2="870.5" stroke="#2c2c2c" stroke-width="1"/>
  <!-- screws -->
  <g id="screw">
    <circle cx="484.8" cy="810" r="16.5" fill="#1c1c1c" stroke="#2e2e2e" stroke-width="2"/>
    <circle cx="484.8" cy="810" r="12" fill="#181818" stroke="#101010" stroke-width="1.5"/>
    <path d="M477.8 803 L491.8 817 M491.8 803 L477.8 817" stroke="#080808" stroke-width="4" stroke-linecap="round"/>
  </g>
  <use href="#screw" transform="translate(0,113.8)"/>
  <use href="#screw" transform="translate(472,1)"/>
  <use href="#screw" transform="translate(472,112.5)"/>
  <!-- USB port -->
  <rect x="514.5" y="800.5" width="119" height="50" rx="3" fill="#0b0b0b" stroke="#c9c9c9" stroke-width="2.5"/>
  <rect x="524" y="810" width="100" height="14" fill="#2f6fe0"/>
  <rect x="522" y="808" width="104" height="2" fill="#151a25"/>
  <rect x="545" y="843" width="8" height="2" fill="#666"/>
  <rect x="597" y="843" width="8" height="2" fill="#666"/>
  <!-- HDMI output port -->
  <path d="M689 801 H815 Q818.3 801 818.3 805 V830.5 L798 849.9 H709 L686 830.5 V805 Q686 801 689 801 Z" fill="#0d0d0d" stroke="#dedede" stroke-width="2.5"/>
  <rect x="706" y="819.7" width="89" height="5.7" fill="#575757"/>
  <rect x="721" y="843" width="9" height="2.5" fill="#777"/>
  <rect x="770" y="843" width="9" height="2.5" fill="#777"/>
  <!-- line out jack -->
  <circle cx="881.8" cy="816" r="22" fill="#1a1a1a" stroke="#333" stroke-width="2"/>
  <circle cx="881.8" cy="816" r="18" fill="#0a0a0a"/>
  <circle cx="890" cy="814" r="1.8" fill="#666"/>
  <!-- HDMI input port -->
  <path d="M659 916 H784.4 Q787.4 916 787.4 920 V944 L766.5 964.2 H678.8 L655.8 944 V920 Q655.8 916 659 916 Z" fill="#0d0d0d" stroke="#dedede" stroke-width="2.5"/>
  <rect x="676" y="934" width="89" height="5.7" fill="#575757"/>
  <rect x="692" y="957.5" width="9" height="2.5" fill="#777"/>
  <rect x="737" y="957.5" width="9" height="2.5" fill="#777"/>
  <!-- mic jack -->
  <circle cx="564" cy="923.8" r="19" fill="#1a1a1a" stroke="#333" stroke-width="2"/>
  <circle cx="564" cy="923.8" r="15.5" fill="#0a0a0a"/>
  <circle cx="570" cy="922" r="1.6" fill="#666"/>
  <!-- micro usb -->
  <path d="M857 919.5 H908.5 Q912.5 919.5 912.5 923.5 V932 L906 942 H859.5 L853.3 932 V923.5 Q853.3 919.5 857 919.5 Z" fill="#0e0e0e" stroke="#9a9a9a" stroke-width="2"/>
  <rect x="864.5" y="928" width="36.5" height="4.3" rx="2" fill="#5a5a5a"/>
  <!-- labels -->
  <g fill="#f2f2f2" font-weight="bold">
    <text x="510" y="781.3" font-size="17.5" textLength="132" lengthAdjust="spacingAndGlyphs">USB 3.0 Output</text>
    <text x="698" y="781.6" font-size="17.5" textLength="109.5" lengthAdjust="spacingAndGlyphs">HDMI Output</text>
    <text x="845" y="781.5" font-size="17.5" textLength="67" lengthAdjust="spacingAndGlyphs">Line Out</text>
    <text x="552" y="896" font-size="17.5" textLength="27" lengthAdjust="spacingAndGlyphs">Mic</text>
    <text x="670" y="896" font-size="17.5" textLength="100" lengthAdjust="spacingAndGlyphs">HDMI Input</text>
    <text x="850.3" y="897" font-size="21" textLength="63.7" lengthAdjust="spacingAndGlyphs">Power</text>
  </g>
</g>

<!-- ===== RED ARROWS ===== -->
<g fill="#F8002F">
  <!-- USB up arrow -->
  <polygon points="629,584 648,608 639,608 639,672 620.5,672 620.5,608 610,608"/>
  <!-- HDMI out up arrow -->
  <polygon points="794,648.6 812.7,672.6 804,672.6 804,736.6 785,736.6 785,672.6 775.6,672.6"/>
  <!-- Signal input up arrow -->
  <polygon points="758.3,1063.3 777.5,1087 768,1087 768,1151 748.8,1151 748.8,1087 739,1087"/>
  <!-- Mic right arrow -->
  <polygon points="362.5,972 337.5,990 337.5,980 275,980 275,965 337.5,965 337.5,953.7"/>
  <!-- Audio out right arrow -->
  <polygon points="1188,838.5 1163,855.5 1163,847.7 1101.5,847.7 1101.5,830.6 1163,830.6 1163,821.4"/>
</g>

</svg>
</body>
</html>
